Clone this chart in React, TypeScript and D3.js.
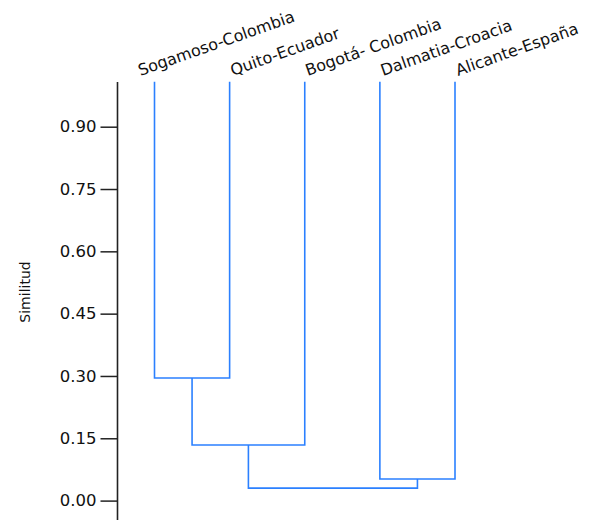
import { useEffect, useRef } from "react"
import * as d3 from "d3"

// leaves, left to right
const leaves = [
    "Sogamoso-Colombia",
    "Quito-Ecuador",
    "Bogotá- Colombia",
    "Dalmatia-Croacia",
    "Alicante-España",
]
const leafSimilarity = 1.008

// merges: [name, left child, right child, similarity]
const merges: [string, string, string, number][] = [
    ["c1", "Sogamoso-Colombia", "Quito-Ecuador", 0.295],
    ["c2", "c1", "Bogotá- Colombia", 0.134],
    ["c3", "Dalmatia-Croacia", "Alicante-España", 0.052],
    ["c4", "c2", "c3", 0.03],
]

const yTicks = [0, 0.15, 0.3, 0.45, 0.6, 0.75, 0.9]

const LINE = "#2b80ff"

export default function App() {
    const ref = useRef<SVGSVGElement>(null)

    useEffect(() => {
        const svg = d3.select(ref.current)
        svg.selectAll("*").remove()

        const width = 589
        const height = 520

        const x = d3.scalePoint<string>()
            .domain(leaves)
            .range([154.5, 455])

        const y = d3.scaleLinear()
            .domain([0, 0.9])
            .range([500.6, 126.7])

        // node positions
        const pos: Record<string, { x: number, h: number }> = {}
        leaves.forEach(l => { pos[l] = { x: x(l) as number, h: leafSimilarity } })
        merges.forEach(([name, a, b, s]) => {
            pos[name] = { x: (pos[a].x + pos[b].x) / 2, h: s }
        })

        const g = svg.append("g")
            .attr("fill", "none")
            .attr("stroke", LINE)
            .attr("stroke-width", 1.6)

        merges.forEach(([, a, b, s]) => {
            const pa = pos[a], pb = pos[b]
            g.append("path")
                .attr("d", `M${pa.x},${y(pa.h)}V${y(s)}H${pb.x}V${y(pb.h)}`)
        })

        // axis
        svg.append("g")
                .attr("transform", "translate(117.5,0)")
            .call(d3.axisLeft(y).tickValues(yTicks).tickFormat(d3.format(".2f")).tickSize(17).tickPadding(4))
            .call(g => g.select(".domain").remove())
            .call(g => g.selectAll(".tick line").attr("stroke", "#222").attr("stroke-width", 1.5))
            .call(g => g.selectAll(".tick text")
                .attr("font-family", "DejaVu Sans")
                .attr("font-size", 16.5)
                .attr("fill", "#111"))

        svg.append("line")
            .attr("x1", 117.5).attr("x2", 117.5)
            .attr("y1", 82).attr("y2", height)
            .attr("stroke", "#222")
            .attr("stroke-width", 1.6)

        svg.append("text")
            .attr("transform", `translate(30,292)rotate(-90)`)
            .attr("text-anchor", "middle")
            .attr("font-family", "DejaVu Sans")
            .attr("font-size", 14)
            .attr("fill", "#111")
            .text("Similitud")

        // leaf labels
        svg.append("g")
            .selectAll("text")
            .data(leaves)
            .join("text")
                .attr("transform", (d, i) => `translate(${(x(d) as number) + (i === 0 ? -14 : 3)},76)rotate(-19.5)`)
                .attr("font-family", "DejaVu Sans")
                .attr("font-size", 16)
                .attr("fill", "#111")
                .text(d => d)

        svg.attr("width", width).attr("height", height)
    }, [])

    return (
        <svg ref={ref} width={589} height={520}
            style={{ position: "absolute", left: 0, top: 0, background: "#fff" }} />
    )
}
